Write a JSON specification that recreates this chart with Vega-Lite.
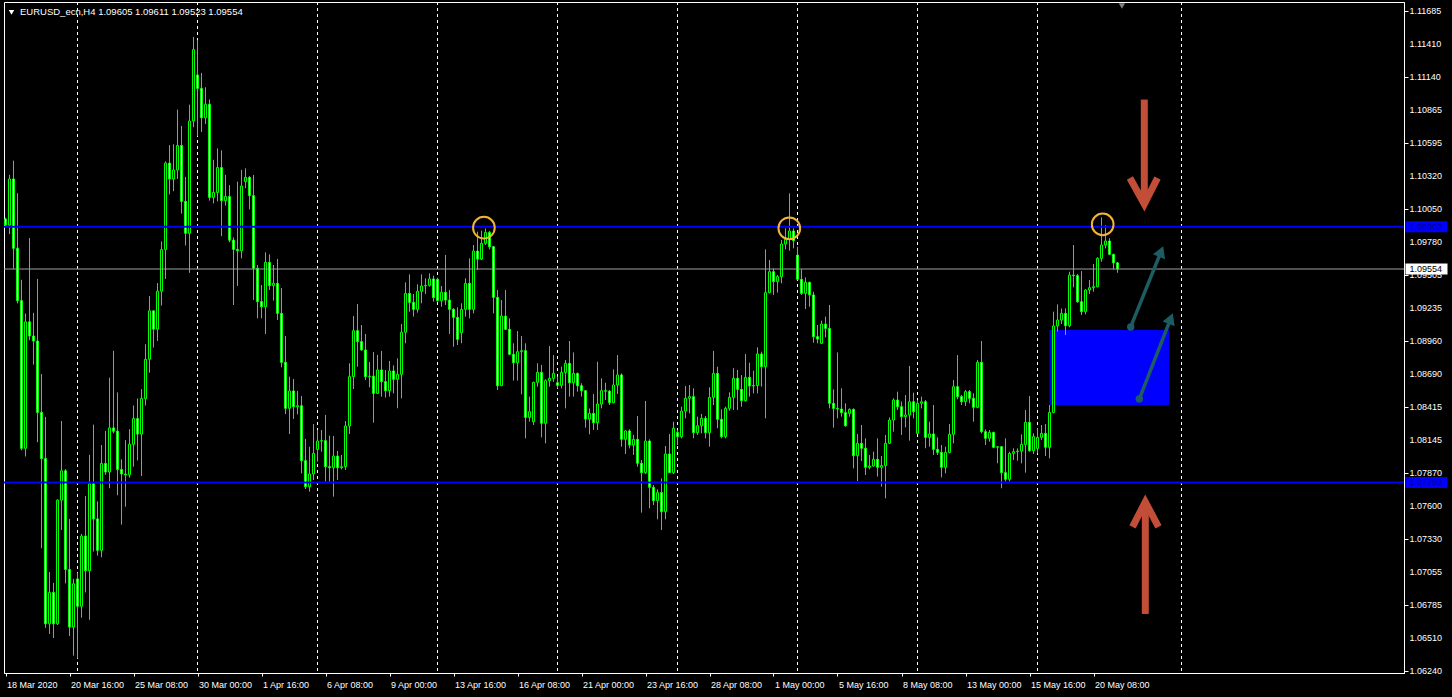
{
"$schema":"https://vega.github.io/schema/vega-lite/v6.json",
"width":1400,"height":671,
"autosize":{"type":"none"},
"padding":{"left":4,"top":2,"right":48,"bottom":24},
"background":"#000000",
"config":{"view":{"stroke":"#ffffff","strokeWidth":1,"fill":"#000000"},
"axis":{"domainColor":"#ffffff","tickColor":"#ffffff","labelColor":"#ffffff","labelFont":"Liberation Sans","labelFontSize":9,"grid":false,"titleColor":"#000000"}},
"datasets":{
"candles":[
{"i":0,"o":1.09967,"h":1.09977,"l":1.0991,"c":1.09916},
{"i":1,"o":1.09916,"h":1.10331,"l":1.09842,"c":1.10297},
{"i":2,"o":1.10297,"h":1.10448,"l":1.09556,"c":1.09725},
{"i":3,"o":1.09725,"h":1.10179,"l":1.0927,"c":1.09293},
{"i":4,"o":1.09293,"h":1.09465,"l":1.08058,"c":1.08075},
{"i":5,"o":1.08075,"h":1.09186,"l":1.08007,"c":1.09118},
{"i":6,"o":1.09118,"h":1.09809,"l":1.08967,"c":1.09001},
{"i":7,"o":1.09001,"h":1.09192,"l":1.08765,"c":1.0896},
{"i":8,"o":1.0896,"h":1.09472,"l":1.08125,"c":1.08371},
{"i":9,"o":1.08371,"h":1.08687,"l":1.0725,"c":1.0799},
{"i":10,"o":1.0799,"h":1.08334,"l":1.06593,"c":1.06627},
{"i":11,"o":1.06627,"h":1.07054,"l":1.06543,"c":1.06886},
{"i":12,"o":1.06886,"h":1.06964,"l":1.06509,"c":1.06627},
{"i":13,"o":1.06627,"h":1.07654,"l":1.06617,"c":1.07647},
{"i":14,"o":1.07647,"h":1.083,"l":1.07401,"c":1.07889},
{"i":15,"o":1.07889,"h":1.07903,"l":1.0696,"c":1.07075},
{"i":16,"o":1.07075,"h":1.07492,"l":1.06526,"c":1.066},
{"i":17,"o":1.066,"h":1.06997,"l":1.06364,"c":1.06957},
{"i":18,"o":1.06997,"h":1.07048,"l":1.06341,"c":1.06772},
{"i":19,"o":1.06772,"h":1.07368,"l":1.06677,"c":1.07351},
{"i":20,"o":1.07351,"h":1.07681,"l":1.06886,"c":1.07065},
{"i":21,"o":1.07065,"h":1.08021,"l":1.0666,"c":1.07782},
{"i":22,"o":1.07782,"h":1.0827,"l":1.07223,"c":1.07492},
{"i":23,"o":1.07492,"h":1.07637,"l":1.07189,"c":1.07233},
{"i":24,"o":1.07233,"h":1.08102,"l":1.07176,"c":1.0795},
{"i":25,"o":1.0795,"h":1.08219,"l":1.07856,"c":1.07879},
{"i":26,"o":1.07879,"h":1.08657,"l":1.07745,"c":1.08243},
{"i":27,"o":1.08243,"h":1.08879,"l":1.08199,"c":1.08216},
{"i":28,"o":1.08216,"h":1.08536,"l":1.07687,"c":1.079},
{"i":29,"o":1.079,"h":1.07984,"l":1.07445,"c":1.07863},
{"i":30,"o":1.07863,"h":1.08142,"l":1.07593,"c":1.07856},
{"i":31,"o":1.07856,"h":1.08233,"l":1.07832,"c":1.08108},
{"i":32,"o":1.08108,"h":1.08428,"l":1.07923,"c":1.0832},
{"i":33,"o":1.0832,"h":1.08485,"l":1.07974,"c":1.08192},
{"i":34,"o":1.08192,"h":1.08563,"l":1.07846,"c":1.08485},
{"i":35,"o":1.08485,"h":1.08933,"l":1.08428,"c":1.08809},
{"i":36,"o":1.08809,"h":1.09331,"l":1.08698,"c":1.09209},
{"i":37,"o":1.09209,"h":1.09209,"l":1.08906,"c":1.09058},
{"i":38,"o":1.09058,"h":1.09438,"l":1.0896,"c":1.09371},
{"i":39,"o":1.09371,"h":1.09782,"l":1.09253,"c":1.09714},
{"i":40,"o":1.09714,"h":1.10442,"l":1.09472,"c":1.10428},
{"i":41,"o":1.10428,"h":1.10576,"l":1.10169,"c":1.10297},
{"i":42,"o":1.10297,"h":1.10583,"l":1.10196,"c":1.10371},
{"i":43,"o":1.10371,"h":1.10869,"l":1.10297,"c":1.10573},
{"i":44,"o":1.10573,"h":1.10735,"l":1.10011,"c":1.10112},
{"i":45,"o":1.10112,"h":1.10314,"l":1.09748,"c":1.09849},
{"i":46,"o":1.09849,"h":1.1091,"l":1.09522,"c":1.10775},
{"i":47,"o":1.10775,"h":1.11469,"l":1.10724,"c":1.11364},
{"i":48,"o":1.11155,"h":1.11442,"l":1.1065,"c":1.11044},
{"i":49,"o":1.11044,"h":1.11172,"l":1.10684,"c":1.10802},
{"i":50,"o":1.10802,"h":1.11054,"l":1.10751,"c":1.10913},
{"i":51,"o":1.10913,"h":1.10953,"l":1.10118,"c":1.10145},
{"i":52,"o":1.10145,"h":1.10455,"l":1.10095,"c":1.10186},
{"i":53,"o":1.10186,"h":1.10549,"l":1.10112,"c":1.10391},
{"i":54,"o":1.10391,"h":1.10533,"l":1.09825,"c":1.10118},
{"i":55,"o":1.10118,"h":1.10331,"l":1.10078,"c":1.10152},
{"i":56,"o":1.10152,"h":1.10246,"l":1.09775,"c":1.09792},
{"i":57,"o":1.09792,"h":1.09815,"l":1.09257,"c":1.09716},
{"i":58,"o":1.09716,"h":1.10275,"l":1.09414,"c":1.09705},
{"i":59,"o":1.09705,"h":1.10371,"l":1.09642,"c":1.10239},
{"i":60,"o":1.10275,"h":1.10385,"l":1.1022,"c":1.1031},
{"i":61,"o":1.1031,"h":1.10321,"l":1.10046,"c":1.10159},
{"i":62,"o":1.10159,"h":1.1033,"l":1.09298,"c":1.0956},
{"i":63,"o":1.0956,"h":1.09587,"l":1.09147,"c":1.09285},
{"i":64,"o":1.09285,"h":1.09422,"l":1.09147,"c":1.09243},
{"i":65,"o":1.09243,"h":1.09692,"l":1.09018,"c":1.09609},
{"i":66,"o":1.09609,"h":1.09675,"l":1.09381,"c":1.09417},
{"i":67,"o":1.09417,"h":1.09587,"l":1.09293,"c":1.09436},
{"i":68,"o":1.09436,"h":1.09637,"l":1.09133,"c":1.09188},
{"i":69,"o":1.09188,"h":1.09397,"l":1.08743,"c":1.08784},
{"i":70,"o":1.08784,"h":1.09001,"l":1.08358,"c":1.08405},
{"i":71,"o":1.08405,"h":1.08666,"l":1.08193,"c":1.08548},
{"i":72,"o":1.08548,"h":1.08647,"l":1.08317,"c":1.08418},
{"i":73,"o":1.08418,"h":1.08548,"l":1.08355,"c":1.08426},
{"i":74,"o":1.08426,"h":1.08506,"l":1.07868,"c":1.07973},
{"i":75,"o":1.07973,"h":1.08152,"l":1.07739,"c":1.07758},
{"i":76,"o":1.07758,"h":1.08088,"l":1.07717,"c":1.07863},
{"i":77,"o":1.07863,"h":1.08275,"l":1.07813,"c":1.08033},
{"i":78,"o":1.08066,"h":1.08226,"l":1.07965,"c":1.08135},
{"i":79,"o":1.08135,"h":1.08226,"l":1.08047,"c":1.08138},
{"i":80,"o":1.08138,"h":1.0835,"l":1.078,"c":1.07923},
{"i":81,"o":1.07923,"h":1.08179,"l":1.078,"c":1.07915},
{"i":82,"o":1.07915,"h":1.08176,"l":1.07676,"c":1.08011},
{"i":83,"o":1.08011,"h":1.08053,"l":1.07813,"c":1.07915},
{"i":84,"o":1.07915,"h":1.0802,"l":1.07901,"c":1.07923},
{"i":85,"o":1.07923,"h":1.083,"l":1.07896,"c":1.08259},
{"i":86,"o":1.08259,"h":1.08776,"l":1.08193,"c":1.08666},
{"i":87,"o":1.08666,"h":1.09166,"l":1.08564,"c":1.09045},
{"i":88,"o":1.09045,"h":1.09265,"l":1.08748,"c":1.08955},
{"i":89,"o":1.08955,"h":1.09092,"l":1.0888,"c":1.08886},
{"i":90,"o":1.08886,"h":1.09018,"l":1.08638,"c":1.08666},
{"i":91,"o":1.08666,"h":1.08787,"l":1.08578,"c":1.0867},
{"i":92,"o":1.0867,"h":1.08869,"l":1.08286,"c":1.08528},
{"i":93,"o":1.08528,"h":1.08845,"l":1.08523,"c":1.08721},
{"i":94,"o":1.08721,"h":1.08878,"l":1.08501,"c":1.08625},
{"i":95,"o":1.08625,"h":1.08721,"l":1.08493,"c":1.0855},
{"i":96,"o":1.0855,"h":1.08795,"l":1.08501,"c":1.08713},
{"i":97,"o":1.08713,"h":1.08759,"l":1.08528,"c":1.08644},
{"i":98,"o":1.08644,"h":1.08817,"l":1.08405,"c":1.08685},
{"i":99,"o":1.08685,"h":1.091,"l":1.08487,"c":1.09032},
{"i":100,"o":1.09032,"h":1.09444,"l":1.08941,"c":1.09353},
{"i":101,"o":1.09353,"h":1.0951,"l":1.09202,"c":1.09279},
{"i":102,"o":1.09279,"h":1.09348,"l":1.09161,"c":1.09221},
{"i":103,"o":1.09221,"h":1.09428,"l":1.09194,"c":1.0937},
{"i":104,"o":1.0937,"h":1.0951,"l":1.09271,"c":1.09414},
{"i":105,"o":1.09414,"h":1.09477,"l":1.09348,"c":1.09419},
{"i":106,"o":1.09419,"h":1.09518,"l":1.09408,"c":1.09472},
{"i":107,"o":1.09472,"h":1.09499,"l":1.09285,"c":1.09318},
{"i":108,"o":1.09469,"h":1.09483,"l":1.09285,"c":1.09293},
{"i":109,"o":1.09293,"h":1.09414,"l":1.09243,"c":1.09362},
{"i":110,"o":1.09362,"h":1.0967,"l":1.09257,"c":1.09298},
{"i":111,"o":1.09298,"h":1.09381,"l":1.09018,"c":1.09221},
{"i":112,"o":1.09221,"h":1.09232,"l":1.08913,"c":1.09155},
{"i":113,"o":1.09155,"h":1.09238,"l":1.08927,"c":1.08974},
{"i":114,"o":1.09029,"h":1.09271,"l":1.08941,"c":1.09221},
{"i":115,"o":1.09221,"h":1.09477,"l":1.09161,"c":1.09436},
{"i":116,"o":1.09436,"h":1.09642,"l":1.09147,"c":1.09221},
{"i":117,"o":1.09221,"h":1.09752,"l":1.09188,"c":1.09702},
{"i":118,"o":1.09702,"h":1.09862,"l":1.09546,"c":1.09636},
{"i":119,"o":1.09636,"h":1.0987,"l":1.09628,"c":1.09766},
{"i":120,"o":1.09766,"h":1.09889,"l":1.09752,"c":1.09856},
{"i":121,"o":1.09856,"h":1.09867,"l":1.09716,"c":1.09738},
{"i":122,"o":1.09738,"h":1.09744,"l":1.09188,"c":1.0932},
{"i":123,"o":1.0932,"h":1.09381,"l":1.08556,"c":1.08591},
{"i":124,"o":1.08591,"h":1.09298,"l":1.08591,"c":1.09166},
{"i":125,"o":1.09166,"h":1.09381,"l":1.09051,"c":1.09056},
{"i":126,"o":1.09056,"h":1.09147,"l":1.08844,"c":1.0885},
{"i":127,"o":1.0885,"h":1.08941,"l":1.08633,"c":1.08781},
{"i":128,"o":1.08781,"h":1.09042,"l":1.08633,"c":1.08872},
{"i":129,"o":1.08872,"h":1.09001,"l":1.0852,"c":1.0888},
{"i":130,"o":1.0888,"h":1.08941,"l":1.08157,"c":1.0833},
{"i":131,"o":1.0833,"h":1.08501,"l":1.08294,"c":1.08377},
{"i":132,"o":1.08294,"h":1.08624,"l":1.08267,"c":1.08619},
{"i":133,"o":1.08619,"h":1.08776,"l":1.08583,"c":1.08701},
{"i":134,"o":1.08701,"h":1.08762,"l":1.08165,"c":1.08281},
{"i":135,"o":1.08281,"h":1.08644,"l":1.08116,"c":1.08633},
{"i":136,"o":1.08633,"h":1.08919,"l":1.08583,"c":1.08652},
{"i":137,"o":1.08652,"h":1.08844,"l":1.08624,"c":1.08693},
{"i":138,"o":1.08616,"h":1.08666,"l":1.08569,"c":1.08594},
{"i":139,"o":1.08594,"h":1.08748,"l":1.08569,"c":1.08701},
{"i":140,"o":1.08701,"h":1.08803,"l":1.08404,"c":1.08776},
{"i":141,"o":1.08776,"h":1.0896,"l":1.08501,"c":1.08616},
{"i":142,"o":1.08616,"h":1.08866,"l":1.08501,"c":1.08693},
{"i":143,"o":1.08693,"h":1.08699,"l":1.08542,"c":1.08591},
{"i":144,"o":1.08591,"h":1.08611,"l":1.08501,"c":1.0855},
{"i":145,"o":1.0855,"h":1.08556,"l":1.08245,"c":1.08316},
{"i":146,"o":1.08316,"h":1.08404,"l":1.0819,"c":1.08363},
{"i":147,"o":1.08363,"h":1.08523,"l":1.08226,"c":1.08286},
{"i":148,"o":1.08286,"h":1.08789,"l":1.08226,"c":1.0844},
{"i":149,"o":1.0844,"h":1.08652,"l":1.08404,"c":1.0855},
{"i":150,"o":1.0855,"h":1.08616,"l":1.08473,"c":1.08546},
{"i":151,"o":1.08546,"h":1.08556,"l":1.08432,"c":1.08451},
{"i":152,"o":1.08451,"h":1.08726,"l":1.08446,"c":1.08597},
{"i":153,"o":1.08597,"h":1.08844,"l":1.08523,"c":1.0868},
{"i":154,"o":1.0868,"h":1.08693,"l":1.08088,"c":1.08149},
{"i":155,"o":1.08149,"h":1.08226,"l":1.08028,"c":1.08218},
{"i":156,"o":1.08218,"h":1.08231,"l":1.08074,"c":1.08102},
{"i":157,"o":1.08102,"h":1.08185,"l":1.0802,"c":1.08149},
{"i":158,"o":1.08149,"h":1.08341,"l":1.07923,"c":1.07951},
{"i":159,"o":1.07951,"h":1.07978,"l":1.07544,"c":1.07874},
{"i":160,"o":1.07874,"h":1.08465,"l":1.07863,"c":1.08135},
{"i":161,"o":1.08135,"h":1.08149,"l":1.0758,"c":1.07753},
{"i":162,"o":1.07753,"h":1.07772,"l":1.07607,"c":1.07643},
{"i":163,"o":1.07643,"h":1.07736,"l":1.07489,"c":1.07709},
{"i":164,"o":1.07709,"h":1.07827,"l":1.07401,"c":1.07552},
{"i":165,"o":1.07552,"h":1.08094,"l":1.07489,"c":1.08028},
{"i":166,"o":1.08028,"h":1.08193,"l":1.07874,"c":1.07874},
{"i":167,"o":1.07874,"h":1.08294,"l":1.07863,"c":1.0824},
{"i":168,"o":1.08206,"h":1.08226,"l":1.08102,"c":1.08171},
{"i":169,"o":1.08171,"h":1.08418,"l":1.08157,"c":1.08382},
{"i":170,"o":1.08382,"h":1.08589,"l":1.08322,"c":1.08487},
{"i":171,"o":1.08487,"h":1.08597,"l":1.08363,"c":1.08501},
{"i":172,"o":1.08501,"h":1.0857,"l":1.08157,"c":1.08204},
{"i":173,"o":1.08204,"h":1.08336,"l":1.08185,"c":1.08261},
{"i":174,"o":1.08261,"h":1.08358,"l":1.08198,"c":1.08322},
{"i":175,"o":1.08322,"h":1.08341,"l":1.08157,"c":1.08204},
{"i":176,"o":1.08204,"h":1.08578,"l":1.08088,"c":1.08495},
{"i":177,"o":1.08495,"h":1.08878,"l":1.08432,"c":1.08693},
{"i":178,"o":1.08693,"h":1.08748,"l":1.0824,"c":1.08314},
{"i":179,"o":1.08314,"h":1.08396,"l":1.08157,"c":1.08171},
{"i":180,"o":1.08171,"h":1.08418,"l":1.08157,"c":1.08404},
{"i":181,"o":1.08404,"h":1.08537,"l":1.08385,"c":1.08495},
{"i":182,"o":1.08495,"h":1.08735,"l":1.08391,"c":1.08652},
{"i":183,"o":1.08652,"h":1.08721,"l":1.08391,"c":1.08561},
{"i":184,"o":1.08561,"h":1.08679,"l":1.08418,"c":1.08468},
{"i":185,"o":1.08468,"h":1.08853,"l":1.0846,"c":1.0866},
{"i":186,"o":1.0866,"h":1.08781,"l":1.08501,"c":1.08589},
{"i":187,"o":1.08589,"h":1.08715,"l":1.08528,"c":1.08593},
{"i":188,"o":1.08593,"h":1.08908,"l":1.08528,"c":1.08853},
{"i":189,"o":1.08853,"h":1.08872,"l":1.08583,"c":1.08748},
{"i":190,"o":1.08748,"h":1.09716,"l":1.08322,"c":1.09359},
{"i":191,"o":1.09359,"h":1.09628,"l":1.09353,"c":1.09532},
{"i":192,"o":1.09532,"h":1.09559,"l":1.0934,"c":1.0945},
{"i":193,"o":1.0945,"h":1.09505,"l":1.09359,"c":1.09491},
{"i":194,"o":1.09491,"h":1.09793,"l":1.09436,"c":1.0976},
{"i":195,"o":1.0976,"h":1.0989,"l":1.09716,"c":1.09799},
{"i":196,"o":1.09799,"h":1.10178,"l":1.09705,"c":1.09868},
{"i":197,"o":1.09868,"h":1.0989,"l":1.09725,"c":1.09788},
{"i":198,"o":1.09669,"h":1.09738,"l":1.09463,"c":1.09469},
{"i":199,"o":1.09469,"h":1.09551,"l":1.0934,"c":1.09353},
{"i":200,"o":1.09353,"h":1.09485,"l":1.09224,"c":1.09444},
{"i":201,"o":1.09444,"h":1.0945,"l":1.09243,"c":1.0934},
{"i":202,"o":1.0934,"h":1.09367,"l":1.08946,"c":1.08996},
{"i":203,"o":1.08996,"h":1.09092,"l":1.08941,"c":1.08976},
{"i":204,"o":1.08941,"h":1.09128,"l":1.08935,"c":1.091},
{"i":205,"o":1.091,"h":1.09161,"l":1.0899,"c":1.09064},
{"i":206,"o":1.09064,"h":1.09257,"l":1.08404,"c":1.08446},
{"i":207,"o":1.08446,"h":1.08561,"l":1.08245,"c":1.08404},
{"i":208,"o":1.08404,"h":1.08866,"l":1.08322,"c":1.08399},
{"i":209,"o":1.08399,"h":1.0857,"l":1.08336,"c":1.08369},
{"i":210,"o":1.08369,"h":1.08446,"l":1.08253,"c":1.08261},
{"i":211,"o":1.08363,"h":1.08404,"l":1.08336,"c":1.08396},
{"i":212,"o":1.08396,"h":1.08404,"l":1.07909,"c":1.08014},
{"i":213,"o":1.08014,"h":1.08193,"l":1.07805,"c":1.08116},
{"i":214,"o":1.08116,"h":1.08267,"l":1.0797,"c":1.08075},
{"i":215,"o":1.08075,"h":1.08157,"l":1.07854,"c":1.07918},
{"i":216,"o":1.07918,"h":1.0802,"l":1.07901,"c":1.07929},
{"i":217,"o":1.07929,"h":1.08047,"l":1.07923,"c":1.07984},
{"i":218,"o":1.07984,"h":1.08157,"l":1.07841,"c":1.07918},
{"i":219,"o":1.07918,"h":1.08011,"l":1.07758,"c":1.07932},
{"i":220,"o":1.07932,"h":1.08185,"l":1.07662,"c":1.08116},
{"i":221,"o":1.08116,"h":1.0833,"l":1.0811,"c":1.08308},
{"i":222,"o":1.08308,"h":1.08487,"l":1.08212,"c":1.08473},
{"i":223,"o":1.08473,"h":1.08542,"l":1.08391,"c":1.08418},
{"i":224,"o":1.08418,"h":1.0846,"l":1.08185,"c":1.08336},
{"i":225,"o":1.08336,"h":1.08514,"l":1.08248,"c":1.0835},
{"i":226,"o":1.0835,"h":1.08754,"l":1.08138,"c":1.08459},
{"i":227,"o":1.08459,"h":1.08534,"l":1.08322,"c":1.08377},
{"i":228,"o":1.08198,"h":1.08473,"l":1.08198,"c":1.08446},
{"i":229,"o":1.08446,"h":1.08501,"l":1.08404,"c":1.08459},
{"i":230,"o":1.08459,"h":1.08473,"l":1.08075,"c":1.08165},
{"i":231,"o":1.08165,"h":1.08294,"l":1.08088,"c":1.08193},
{"i":232,"o":1.08193,"h":1.08432,"l":1.0802,"c":1.08066},
{"i":233,"o":1.08066,"h":1.08165,"l":1.0802,"c":1.08041},
{"i":234,"o":1.08041,"h":1.08102,"l":1.07835,"c":1.07918},
{"i":235,"o":1.07918,"h":1.08088,"l":1.07868,"c":1.08041},
{"i":236,"o":1.08041,"h":1.08275,"l":1.08033,"c":1.0819},
{"i":237,"o":1.0819,"h":1.08638,"l":1.08116,"c":1.08583},
{"i":238,"o":1.08583,"h":1.08844,"l":1.08479,"c":1.08501},
{"i":239,"o":1.08501,"h":1.08514,"l":1.08432,"c":1.08459},
{"i":240,"o":1.08459,"h":1.08556,"l":1.08424,"c":1.08542},
{"i":241,"o":1.08542,"h":1.08556,"l":1.08446,"c":1.08487},
{"i":242,"o":1.08487,"h":1.08528,"l":1.08294,"c":1.08413},
{"i":243,"o":1.08413,"h":1.08803,"l":1.08405,"c":1.08784},
{"i":244,"o":1.08784,"h":1.0896,"l":1.08198,"c":1.08212},
{"i":245,"o":1.08212,"h":1.08231,"l":1.08102,"c":1.08157},
{"i":246,"o":1.08157,"h":1.08226,"l":1.08129,"c":1.08206},
{"i":247,"o":1.08206,"h":1.08212,"l":1.08075,"c":1.08083},
{"i":248,"o":1.08083,"h":1.08094,"l":1.07951,"c":1.08088},
{"i":249,"o":1.08088,"h":1.08094,"l":1.07745,"c":1.07874},
{"i":250,"o":1.07874,"h":1.08157,"l":1.078,"c":1.07819},
{"i":251,"o":1.07819,"h":1.08047,"l":1.078,"c":1.08033},
{"i":252,"o":1.08033,"h":1.08074,"l":1.07978,"c":1.08047},
{"i":253,"o":1.08047,"h":1.08074,"l":1.07973,"c":1.08052},
{"i":254,"o":1.08052,"h":1.0819,"l":1.07951,"c":1.08107},
{"i":255,"o":1.08107,"h":1.08391,"l":1.07874,"c":1.08289},
{"i":256,"o":1.08289,"h":1.08506,"l":1.08047,"c":1.08055},
{"i":257,"o":1.08055,"h":1.08198,"l":1.08028,"c":1.08171},
{"i":258,"o":1.08074,"h":1.0824,"l":1.08033,"c":1.08165},
{"i":259,"o":1.08165,"h":1.08267,"l":1.08143,"c":1.08198},
{"i":260,"o":1.08198,"h":1.08275,"l":1.08011,"c":1.08083},
{"i":261,"o":1.08083,"h":1.08432,"l":1.07992,"c":1.08371},
{"i":262,"o":1.08371,"h":1.09202,"l":1.08363,"c":1.09084},
{"i":263,"o":1.09084,"h":1.09262,"l":1.09037,"c":1.09133},
{"i":264,"o":1.09133,"h":1.09229,"l":1.091,"c":1.09188},
{"i":265,"o":1.09188,"h":1.09229,"l":1.09009,"c":1.09086},
{"i":266,"o":1.09086,"h":1.09532,"l":1.09073,"c":1.09504},
{"i":267,"o":1.09504,"h":1.09752,"l":1.09403,"c":1.09499},
{"i":268,"o":1.09499,"h":1.09513,"l":1.09276,"c":1.09284},
{"i":269,"o":1.09284,"h":1.09537,"l":1.09174,"c":1.09202},
{"i":270,"o":1.09202,"h":1.09386,"l":1.0918,"c":1.09381},
{"i":271,"o":1.09381,"h":1.09463,"l":1.09348,"c":1.094},
{"i":272,"o":1.094,"h":1.09595,"l":1.09367,"c":1.09408},
{"i":273,"o":1.09408,"h":1.0965,"l":1.09403,"c":1.09642},
{"i":274,"o":1.09642,"h":1.0998,"l":1.09614,"c":1.09752},
{"i":275,"o":1.09752,"h":1.09917,"l":1.09724,"c":1.09785},
{"i":276,"o":1.09785,"h":1.09807,"l":1.09669,"c":1.09675},
{"i":277,"o":1.09675,"h":1.0968,"l":1.09551,"c":1.09605},
{"i":278,"o":1.09605,"h":1.09611,"l":1.09523,"c":1.09554}
],
"separators":[{"i":18},{"i":48},{"i":78},{"i":108},{"i":138},{"i":168},{"i":198},{"i":228},{"i":258},{"i":294}],
"zone":[{"i1":261,"i2":290.875,"p1":1.09051,"p2":1.08432}],
"levels":[{"p":1.09902},{"p":1.07793}],
"bid":[{"p":1.09554}],
"yticks":[{"v":1.11685},{"v":1.1141},{"v":1.1114},{"v":1.10865},{"v":1.10595},{"v":1.1032},{"v":1.1005},{"v":1.0978},{"v":1.09505},{"v":1.09235},{"v":1.0896},{"v":1.0869},{"v":1.08415},{"v":1.08145},{"v":1.0787},{"v":1.076},{"v":1.0733},{"v":1.07055},{"v":1.06785},{"v":1.0651},{"v":1.0624}],
"circles":[{"i":119.6,"p":1.09895},{"i":195.95,"p":1.0989},{"i":274.3,"p":1.09922}],
"redArrows":[
{"seg":"d1","k":0,"i":284.7,"p":1.10952},{"seg":"d1","k":1,"i":284.7,"p":1.1009},
{"seg":"d2","k":0,"i":281.1,"p":1.10305},{"seg":"d2","k":1,"i":284.7,"p":1.1009},{"seg":"d2","k":2,"i":288.0,"p":1.10305},
{"seg":"u1","k":0,"i":284.95,"p":1.06708},{"seg":"u1","k":1,"i":284.95,"p":1.07632},
{"seg":"u2","k":0,"i":281.75,"p":1.07426},{"seg":"u2","k":1,"i":284.95,"p":1.07632},{"seg":"u2","k":2,"i":288.25,"p":1.07426}],
"tealShafts":[
{"seg":"t1","k":0,"i":281.3,"p":1.09076},{"seg":"t1","k":1,"i":288.9,"p":1.09698},
{"seg":"t2","k":0,"i":283.45,"p":1.08481},{"seg":"t2","k":1,"i":291.3,"p":1.09145}],
"tealStarts":[{"i":281.3,"p":1.09076},{"i":283.45,"p":1.08481}],
"tealHeads":[{"i":288.9,"p":1.09698},{"i":291.3,"p":1.09145}],
"priceTags":[{"p":1.09902,"kind":"level"},{"p":1.09554,"kind":"bid"},{"p":1.07793,"kind":"level"}],
"header":[{"label":"EURUSD_ecn,H4  1.09605 1.09611 1.09523 1.09554"}]
},
"layer":[
{"data":{"name":"separators"},
 "mark":{"type":"rule","color":"#ffffff","strokeWidth":1,"strokeDash":[3,3]},
 "encoding":{"x":{"field":"i","type":"quantitative","scale":{"domain":[-0.375,349.625],"nice":false,"zero":false,"padding":0}}}},
{"data":{"name":"zone"},
 "mark":{"type":"rect","color":"#0000ff","opacity":1},
 "encoding":{"x":{"field":"i1","type":"quantitative","scale":{"domain":[-0.375,349.625],"nice":false,"zero":false,"padding":0}},"x2":{"field":"i2"},
  "y":{"field":"p1","type":"quantitative","scale":{"domain":[1.062209,1.11757],"nice":false,"zero":false,"padding":0}},"y2":{"field":"p2"}}},
{"data":{"name":"candles"},
 "mark":{"type":"rule","color":"#00ff00","strokeWidth":1},
 "encoding":{
  "x":{"field":"i","type":"quantitative","scale":{"domain":[-0.375,349.625],"nice":false,"zero":false,"padding":0},
   "axis":{"orient":"bottom","title":null,"values":[0,16,32,48,64,80,96,112,128,144,160,176,192,208,224,240,256,272],
    "labelExpr":"['18 Mar 2020','20 Mar 16:00','25 Mar 08:00','30 Mar 00:00','1 Apr 16:00','6 Apr 08:00','9 Apr 00:00','13 Apr 16:00','16 Apr 08:00','21 Apr 00:00','23 Apr 16:00','28 Apr 08:00','1 May 00:00','5 May 16:00','8 May 08:00','13 May 00:00','15 May 16:00','20 May 08:00'][round(datum.value/16)]",
    "tickSize":3,"labelPadding":4,"labelAlign":"left","labelOffset":1,"labelFlush":false,"labelOverlap":false,"labelBound":false}},
  "y":{"field":"l","type":"quantitative","scale":{"domain":[1.062209,1.11757],"nice":false,"zero":false,"padding":0},
   "axis":{"orient":"right","title":null,
    "values":[1.11685,1.1141,1.1114,1.10865,1.10595,1.1032,1.1005,1.0978,1.09505,1.09235,1.0896,1.0869,1.08415,1.08145,1.0787,1.076,1.0733,1.07055,1.06785,1.0651,1.0624],
    "labels":false,"tickSize":4}},
  "y2":{"field":"h"}}},
{"data":{"name":"candles"},
 "mark":{"type":"bar","size":2,"stroke":"#00ff00","strokeWidth":1,"opacity":1},
 "encoding":{
  "x":{"field":"i","type":"quantitative","scale":{"domain":[-0.375,349.625],"nice":false,"zero":false,"padding":0}},
  "y":{"field":"o","type":"quantitative","scale":{"domain":[1.062209,1.11757],"nice":false,"zero":false,"padding":0}},
  "y2":{"field":"c"},
  "fill":{"condition":{"test":"datum.c < datum.o","value":"#ffffff"},"value":"#000000"}}},
{"data":{"name":"levels"},
 "mark":{"type":"rule","color":"#0000ff","strokeWidth":2},
 "encoding":{"y":{"field":"p","type":"quantitative"}}},
{"data":{"name":"bid"},
 "mark":{"type":"rule","color":"#a0a0a0","strokeWidth":1},
 "encoding":{"y":{"field":"p","type":"quantitative"}}},
{"data":{"name":"circles"},
 "mark":{"type":"point","shape":"circle","filled":false,"stroke":"#f2b53a","strokeWidth":2,"size":470,"opacity":1},
 "encoding":{"x":{"field":"i","type":"quantitative"},"y":{"field":"p","type":"quantitative"}}},
{"data":{"name":"redArrows"},
 "mark":{"type":"line","color":"#c24e38","strokeWidth":7,"strokeCap":"butt","strokeJoin":"miter"},
 "encoding":{"x":{"field":"i","type":"quantitative"},"y":{"field":"p","type":"quantitative"},
  "detail":{"field":"seg","type":"nominal"},"order":{"field":"k","type":"quantitative"}}},
{"data":{"name":"tealShafts"},
 "mark":{"type":"line","color":"#1d5c63","strokeWidth":3.5,"strokeCap":"butt"},
 "encoding":{"x":{"field":"i","type":"quantitative"},"y":{"field":"p","type":"quantitative"},
  "detail":{"field":"seg","type":"nominal"},"order":{"field":"k","type":"quantitative"}}},
{"data":{"name":"tealStarts"},
 "mark":{"type":"point","shape":"circle","filled":true,"color":"#1d5c63","size":55,"opacity":1},
 "encoding":{"x":{"field":"i","type":"quantitative"},"y":{"field":"p","type":"quantitative"}}},
{"data":{"name":"tealHeads"},
 "mark":{"type":"point","shape":"triangle-up","filled":true,"color":"#1d5c63","size":170,"angle":22,"opacity":1},
 "encoding":{"x":{"field":"i","type":"quantitative"},"y":{"field":"p","type":"quantitative"}}},
{"data":{"name":"yticks"},
 "mark":{"type":"text","align":"left","baseline":"middle","font":"Liberation Sans","fontSize":9,"color":"#ffffff"},
 "encoding":{"x":{"datum":351.0,"type":"quantitative"},
  "y":{"field":"v","type":"quantitative"},
  "text":{"field":"v","type":"quantitative","format":".5f"}}},
{"data":{"name":"priceTags"},
 "mark":{"type":"bar","orient":"horizontal","size":11,"opacity":1},
 "encoding":{"x":{"datum":350.0,"type":"quantitative","scale":{"domain":[-0.375,349.625],"nice":false,"zero":false,"padding":0}},"x2":{"datum":360.5},
  "y":{"field":"p","type":"quantitative","scale":{"domain":[1.062209,1.11757],"nice":false,"zero":false,"padding":0}},
  "fill":{"condition":{"test":"datum.kind == 'bid'","value":"#ffffff"},"value":"#0000ff"}}},
{"data":{"name":"priceTags"},
 "mark":{"type":"text","align":"left","baseline":"middle","font":"Liberation Sans","fontSize":9},
 "encoding":{"x":{"datum":351.0,"type":"quantitative"},
  "y":{"field":"p","type":"quantitative"},
  "text":{"field":"p","type":"quantitative","format":".5f"},
  "fill":{"condition":{"test":"datum.kind == 'bid'","value":"#000000"},"value":"#000090"}}},
{"data":{"name":"header"},
 "mark":{"type":"text","align":"left","baseline":"middle","font":"Liberation Sans","fontSize":9.5,"color":"#ffffff"},
 "encoding":{"x":{"datum":3.625,"type":"quantitative"},"y":{"datum":1.116745,"type":"quantitative"},
  "text":{"field":"label","type":"nominal"}}},
{"data":{"name":"header"},
 "mark":{"type":"point","shape":"triangle-down","filled":true,"color":"#ffffff","size":30,"opacity":1},
 "encoding":{"x":{"datum":1.5,"type":"quantitative"},"y":{"datum":1.116704,"type":"quantitative"}}},
{"data":{"name":"header"},
 "mark":{"type":"point","shape":"triangle-down","filled":true,"color":"#808080","size":40,"opacity":1},
 "encoding":{"x":{"datum":279.1,"type":"quantitative"},"y":{"datum":1.11724,"type":"quantitative"}}}
]
}
